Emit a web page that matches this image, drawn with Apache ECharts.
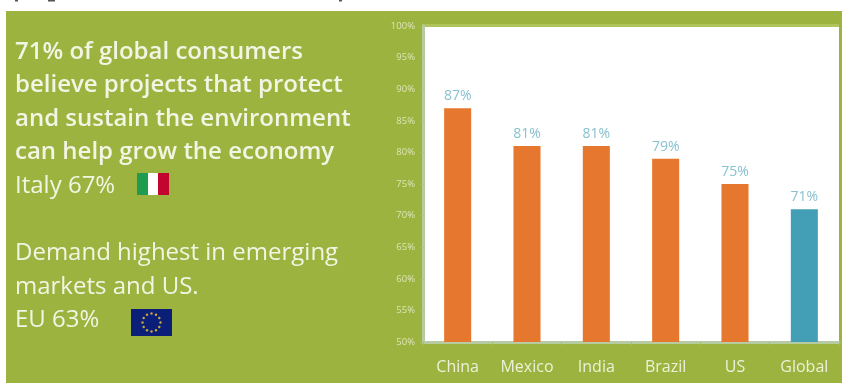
<!DOCTYPE html>
<html>
<head>
<meta charset="utf-8">
<style>html,body{margin:0;padding:0;background:#fff}#chart{width:842px;height:383px}</style>
<script src="https://cdn.jsdelivr.net/npm/echarts@6/dist/echarts.min.js"></script>
</head>
<body>
<div id="chart"></div>
<script>
// Share of consumers who say environmental projects can help grow the economy
const countries = ['China', 'Mexico', 'India', 'Brazil', 'US', 'Global'];
const shares = [87, 81, 81, 79, 75, 71];
const axisMin = 50;
const axisMax = 100;
const axisStep = 5;
const headlineLines = [
  '71% of global consumers',
  'believe projects that protect',
  'and sustain the environment',
  'can help grow the economy'
];
const italyLine = 'Italy 67%';
const demandLines = ['Demand highest in emerging', 'markets and US.', 'EU 63%'];

const GREEN = '#9cb33f';
const ORANGE = '#e6772e';
const TEAL = '#429fb5';
const AXIS_LINE = '#b7cba3';
const PANEL_TEXT = '#f3f5e4';
const FONT = 'Open Sans';

function textLine(str, x, baseline, weight) {
  return {
    type: 'text', x: x, y: baseline,
    style: {
      text: str, fill: PANEL_TEXT, font: weight + ' 24px "' + FONT + '"',
      textAlign: 'left', textVerticalAlign: 'bottom'
    }
  };
}

const panelText = [];
headlineLines.forEach((s, i) => panelText.push(textLine(s, 15, 64 + i * 33.5, 600)));
panelText.push(textLine(italyLine, 15, 198, 400));
demandLines.forEach((s, i) => panelText.push(textLine(s, 15, 265.5 + i * 33.2, 400)));

// Tricolour beside the Italy line
const italyFlag = [
  { type: 'rect', shape: { x: 137, y: 173, width: 11, height: 22 }, style: { fill: '#1f9c4d' } },
  { type: 'rect', shape: { x: 148, y: 173, width: 10, height: 22 }, style: { fill: '#ffffff' } },
  { type: 'rect', shape: { x: 158, y: 173, width: 11, height: 22 }, style: { fill: '#c1052f' } }
];

// EU flag: blue field with a ring of twelve stars
const euFlag = [
  { type: 'rect', shape: { x: 131, y: 309, width: 41, height: 27 }, style: { fill: '#0b1f78' } }
];
for (let i = 0; i < 12; i++) {
  const a = i * Math.PI / 6;
  euFlag.push({
    type: 'circle',
    shape: { cx: 151.5 + 9 * Math.sin(a), cy: 322.5 - 9 * Math.cos(a), r: 1.2 },
    style: { fill: '#c9a93a' }
  });
}

// Descenders of the slide heading that runs off the top edge
const headingTails = [
  { type: 'rect', shape: { x: 15, y: 0, width: 3, height: 1.5 }, style: { fill: '#555555' } },
  { type: 'rect', shape: { x: 48, y: 0, width: 7, height: 1.5 }, style: { fill: '#555555' } },
  { type: 'rect', shape: { x: 339, y: 0, width: 3, height: 1.5 }, style: { fill: '#555555' } }
];

// Lighter edge along the top of the plot area
const plotTopEdge = {
  type: 'rect',
  shape: { x: 422, y: 24, width: 417, height: 3 },
  style: { fill: '#b0c45c' }
};

const chart = echarts.init(document.getElementById('chart'));
chart.setOption({
  animation: false,
  backgroundColor: '#ffffff',
  grid: { left: 423, right: 3, top: 26, bottom: 41, backgroundColor: '#ffffff', show: true, borderWidth: 0 },
  xAxis: {
    type: 'category',
    data: countries,
    axisLine: { lineStyle: { color: AXIS_LINE, width: 3 } },
    axisTick: { show: true, length: 3, lineStyle: { color: '#a9bf62' } },
    axisLabel: { color: '#eef1d8', fontFamily: FONT, fontSize: 16, margin: 17 }
  },
  yAxis: {
    type: 'value',
    min: axisMin,
    max: axisMax,
    interval: axisStep,
    splitLine: { show: false },
    axisLine: { show: true, lineStyle: { color: AXIS_LINE, width: 3 } },
    axisTick: { show: true, length: 3, lineStyle: { color: '#a9bf62' } },
    axisLabel: {
      color: '#dde4b6', fontFamily: FONT, fontSize: 9.5, margin: 8,
      formatter: '{value}%'
    }
  },
  series: [{
    type: 'bar',
    barWidth: '39%',
    z: 1,
    data: shares.map((v, i) => ({
      value: v,
      itemStyle: { color: countries[i] === 'Global' ? TEAL : ORANGE }
    })),
    label: {
      show: true, position: 'top', distance: 5,
      color: '#88c1d0', fontFamily: FONT, fontSize: 14,
      formatter: '{c}%'
    }
  }],
  graphic: [
    // Green panel behind everything, leaving a white strip on the top and left
    {
      type: 'group', z: -10, silent: true, zlevel: 0,
      children: [
        { type: 'rect', z: -10, shape: { x: 6, y: 11, width: 836, height: 372 }, style: { fill: GREEN } }
      ]
    },
    { type: 'group', silent: true, children: panelText.concat(italyFlag, euFlag, headingTails, [plotTopEdge]) }
  ]
});
</script>
</body>
</html>
